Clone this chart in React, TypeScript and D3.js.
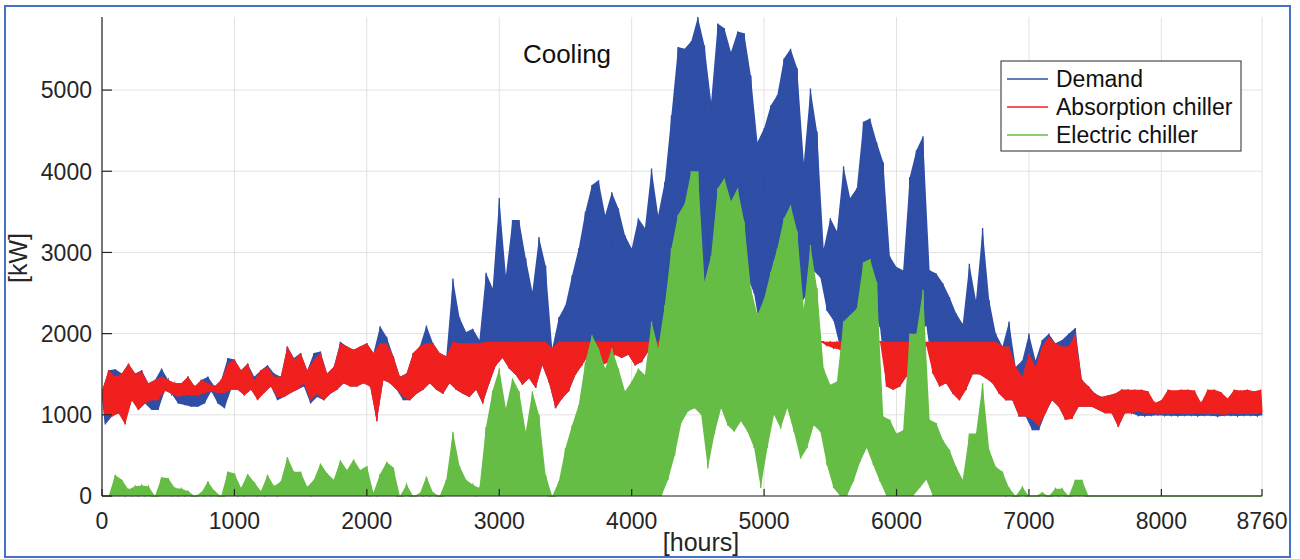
import React from "react";
import * as d3 from "d3";

// Hourly cooling profile, read from the picture as the upper / lower envelope of
// each successive 50-hour block (176 blocks cover hours 0 … 8760).
const blockHours = 50;

const demandMax = [
  1300, 1550, 1560, 1510, 1630, 1510, 1550, 1390, 1430, 1570,
  1430, 1390, 1390, 1470, 1350, 1430, 1470, 1350, 1430, 1700,
  1680, 1550, 1630, 1470, 1550, 1610, 1510, 1470, 1840, 1700,
  1760, 1550, 1760, 1780, 1510, 1590, 1900, 1840, 1800, 1840,
  1880, 1760, 2090, 1960, 1720, 1470, 1510, 1760, 1840, 2100,
  1880, 1760, 1720, 2680, 2200, 2020, 2060, 1920, 2750,
  2560, 3670, 2720, 3400, 3400, 2930, 2520, 3190, 2840, 1820,
  2200, 2350, 2720, 3050, 3500, 3830, 3890, 3460, 3740, 3540,
  3210, 3050, 3420, 3300, 4035, 3460, 3870, 4690, 5530,
  5510, 5600, 5900, 5550, 4860, 5820, 5760, 5470, 5720, 5700,
  5180, 4360, 4530, 4810, 4940, 5390, 5510, 5270, 4110, 5020,
  4490, 3050, 3420, 3260, 4060, 3670, 3790, 4610, 4650, 4360,
  4110, 2950, 2820, 2780, 3930, 4260, 4430, 2780, 2740, 2620,
  2450, 2250, 2120, 2860, 2410, 3300, 2410, 2000,
  1840, 2150, 1590, 1670, 2000, 1670, 1920, 2000, 1880, 1920, 2000, 2070,
  1430, 1350, 1260, 1220, 1240, 1260, 1310, 1310,
  1070, 1060, 1060, 1050, 1060, 1060, 1070, 1060, 1050, 1060,
  1060, 1050, 1060, 1060, 1050, 1060, 1060, 1050, 1060, 1060,
];

const demandMin = [
  880, 980, 1020, 920, 1180, 1060, 1140, 1060, 1060, 1300,
  1260, 1140, 1120, 1100, 1100, 1140, 1290, 1140, 1080, 1310,
  1310, 1240, 1310, 1200, 1270, 1350, 1180, 1220, 1270, 1310,
  1350, 1140, 1220, 1180, 1260, 1310, 1390, 1350, 1350, 1390,
  1350, 920, 1430, 1390, 1310, 1180, 1180, 1260, 1310, 1390,
  1310, 1260, 1390, 1310, 1260, 1220, 1310, 1140, 1390,
  1610, 1700, 1570, 1490, 1370, 1450, 1330, 1610, 1400, 1080,
  1200, 1290, 1490, 1610, 1740, 1820, 1610, 1650, 1740, 1700,
  1740, 1610, 1650, 1780, 1570, 1820, 1860, 2100, 2400,
  2940, 2980, 2900, 2240, 2660, 2980, 2770, 2690, 2820, 2690,
  2490, 2000, 2490, 2900, 2730, 2980, 2690, 2360, 2490, 2770,
  2690, 2280, 2160, 1820, 1820, 2080, 2320, 2490, 2280, 2080,
  1350, 1310, 1350, 1470, 1590, 2000, 2100, 1510, 1350, 1390,
  1260, 1180, 1310, 1500, 1500, 1450, 1390, 1260,
  1180, 1180, 980, 980, 810, 810, 1020, 1180, 1100, 940, 950, 1100,
  1100, 1100, 1060, 1020, 1020, 850, 1020, 1020,
  990, 985, 990, 995, 990, 990, 985, 990, 990, 985,
  990, 990, 980, 990, 990, 985, 990, 990, 985, 995,
];

const absorptionMax = [
  1300, 1550, 1470, 1510, 1630, 1510, 1530, 1390, 1430, 1470,
  1430, 1390, 1390, 1470, 1350, 1430, 1390, 1350, 1430, 1630,
  1680, 1550, 1630, 1430, 1550, 1590, 1470, 1470, 1840, 1680,
  1760, 1550, 1680, 1760, 1510, 1590, 1880, 1840, 1800, 1840,
  1880, 1760, 1880, 1880, 1720, 1470, 1510, 1760, 1840, 1880,
  1880, 1760, 1720, 1900, 1880, 1880, 1880, 1880, 1900,
  1900, 1900, 1900, 1900, 1900, 1900, 1900, 1900, 1900, 1820,
  1900, 1900, 1900, 1900, 1900, 1900, 1900, 1900, 1900, 1900,
  1900, 1900, 1900, 1900, 1900, 1900, 1900, 1900, 1900,
  1900, 1900, 1900, 1900, 1900, 1900, 1900, 1900, 1900, 1900,
  1900, 1900, 1900, 1900, 1900, 1900, 1900, 1900, 1900, 1900,
  1900, 1900, 1900, 1900, 1900, 1900, 1900, 1900, 1900, 1900,
  1900, 1900, 1900, 1900, 1900, 1900, 1900, 1900, 1900, 1900,
  1900, 1900, 1900, 1900, 1900, 1900, 1900, 1900,
  1840, 1840, 1590, 1470, 1760, 1590, 1840, 1960, 1880, 1840, 1840, 2000,
  1430, 1350, 1260, 1220, 1240, 1260, 1310, 1310,
  1310, 1310, 1290, 1150, 1180, 1310, 1300, 1310, 1310, 1300,
  1150, 1310, 1310, 1280, 1200, 1310, 1300, 1310, 1290, 1310,
];

const absorptionMin = [
  990, 980, 1020, 880, 1180, 1060, 1140, 1180, 1180, 1300,
  1260, 1220, 1240, 1240, 1240, 1270, 1290, 1270, 1270, 1310,
  1310, 1240, 1310, 1180, 1270, 1350, 1220, 1220, 1270, 1310,
  1390, 1180, 1260, 1180, 1260, 1310, 1390, 1350, 1350, 1390,
  1350, 920, 1430, 1390, 1310, 1220, 1180, 1260, 1310, 1390,
  1310, 1260, 1390, 1310, 1260, 1220, 1310, 1140, 1390,
  1610, 1700, 1570, 1490, 1370, 1450, 1330, 1610, 1400, 1080,
  1200, 1290, 1490, 1610, 1740, 1820, 1610, 1650, 1740, 1700,
  1740, 1610, 1650, 1780, 1570, 1820, 1860, 1900, 1900,
  1900, 1900, 1900, 1900, 1900, 1900, 1900, 1900, 1900, 1900,
  1900, 1900, 1900, 1900, 1900, 1900, 1900, 1900, 1900, 1900,
  1900, 1850, 1820, 1800, 1820, 1840, 1900, 1900, 1900, 1900,
  1350, 1310, 1350, 1470, 1590, 1800, 1850, 1510, 1350, 1390,
  1260, 1180, 1310, 1500, 1500, 1450, 1390, 1260,
  1180, 1180, 980, 980, 940, 860, 1020, 1180, 1100, 940, 950, 1100,
  1100, 1100, 1060, 1020, 1020, 850, 1020, 1020,
  1040, 1020, 1020, 1010, 1010, 1010, 1020, 1010, 1010, 1020,
  1010, 1010, 1010, 1000, 1020, 1010, 1010, 1010, 1010, 1030,
];

const electricMax = [
  0, 0, 260, 200, 80, 120, 130, 120, 0, 230,
  220, 100, 90, 60, 0, 40, 180, 60, 0, 300,
  280, 100, 270, 170, 60, 260, 120, 180, 480, 300,
  300, 110, 200, 400, 280, 200, 440, 320, 450, 320,
  370, 40, 270, 420, 350, 0, 140, 0, 30, 240,
  40, 0, 200, 790, 370, 200, 140, 100, 850,
  1300, 1570, 1080, 1450, 1290, 790, 1290, 1000, 260, 0,
  180, 590, 870, 1120, 1650, 1980, 1820, 1570, 1820, 1570,
  1290, 1410, 1570, 1490, 2150, 1820, 2350, 3050, 3460,
  3600, 4000, 4000, 2640, 2960, 3790, 3910, 3630, 3790, 3380,
  2560, 2230, 2430, 2760, 3050, 3420, 3580, 3260, 2310, 3090,
  2560, 1570, 1370, 1410, 2150, 2230, 2310, 2880, 2920, 2640,
  980, 940, 770, 810, 2000, 2000, 2540, 940, 900, 690,
  570, 360, 200, 770, 770, 1390, 570, 360,
  300, 100, 0, 110, 0, 0, 40, 0, 90, 90, 0, 200,
  200, 0, 0, 0, 0, 0, 0, 0,
  0, 0, 0, 0, 0, 0, 0, 0, 0, 0,
  0, 0, 0, 0, 0, 0, 0, 0, 0, 0,
];

const electricMin = [
  0, 0, 0, 0, 0, 0, 0, 0, 0, 0,
  0, 0, 0, 0, 0, 0, 0, 0, 0, 0,
  0, 0, 0, 0, 0, 0, 0, 0, 0, 0,
  0, 0, 0, 0, 0, 0, 0, 0, 0, 0,
  0, 0, 0, 0, 0, 0, 0, 0, 0, 0,
  0, 0, 0, 0, 0, 0, 0, 0, 0,
  0, 0, 0, 0, 0, 0, 0, 0, 0, 0,
  0, 0, 0, 0, 0, 0, 0, 0, 0, 0,
  0, 0, 0, 0, 0, 0, 200, 500, 900,
  1040, 1080, 1000, 340, 760, 1080, 870, 790, 920, 790,
  590, 100, 590, 1000, 830, 1080, 790, 460, 590, 870,
  790, 380, 100, 0, 0, 180, 420, 590, 380, 180,
  0, 0, 0, 0, 0, 100, 200, 0, 0, 0,
  0, 0, 0, 0, 0, 0, 0, 0,
  0, 0, 0, 0, 0, 0, 0, 0, 0, 0, 0, 0,
  0, 0, 0, 0, 0, 0, 0, 0,
  0, 0, 0, 0, 0, 0, 0, 0, 0, 0,
  0, 0, 0, 0, 0, 0, 0, 0, 0, 0,
];

const xTicks = [0, 1000, 2000, 3000, 4000, 5000, 6000, 7000, 8000, 8760];
const yTicks = [0, 1000, 2000, 3000, 4000, 5000];
const seriesNames = ["Demand", "Absorption chiller", "Electric chiller"];
const titleText = "Cooling";
const xLabel = "[hours]";
const yLabel = "[kW]";

const COLORS = ["#2f4ea6", "#f0201e", "#66bd45"];
const FONT = "'Liberation Sans', Arial, Helvetica, sans-serif";

type Pt = [number, number];
type Block = { hMax: number; hMin: number; max: number; min: number };

function blocks(maxs: number[], mins: number[]): Block[] {
  return maxs.map((v, i) => ({
    hMax: Math.min(i * blockHours, 8760),
    hMin: Math.min(i * blockHours + blockHours / 2, 8760),
    max: v,
    min: mins[i],
  }));
}

function envelopeTrace(b: Block[]): Pt[] {
  const pts: Pt[] = [];
  b.forEach((d) => {
    pts.push([d.hMax, d.max]);
    pts.push([d.hMin, d.min]);
  });
  return pts;
}

export default function App() {
  const W = 1300;
  const H = 559;
  const left = 102;
  const right = 1262;
  const top = 17;
  const bottom = 496;

  const x = d3.scaleLinear().domain([0, 8760]).range([left, right]);
  const y = d3.scaleLinear().domain([0, 5900]).range([bottom, top]);

  const line = d3
    .line<Pt>()
    .x((d) => x(d[0]))
    .y((d) => y(d[1]));

  const area = d3
    .area<Block>()
    .x1((d) => x(d.hMax))
    .y1((d) => y(d.max))
    .x0((d) => x(d.hMin))
    .y0((d) => y(d.min));

  const series = [
    blocks(demandMax, demandMin),
    blocks(absorptionMax, absorptionMin),
    blocks(electricMax, electricMin),
  ];

  const axisColor = "#262626";
  const gridColor = "#e2e2e2";

  const legendX = 1001;
  const legendY = 61;
  const legendW = 240;
  const legendH = 90;
  const rowY = [79, 107, 135];

  return (
    <svg
      width={W}
      height={H}
      viewBox={`0 0 ${W} ${H}`}
      style={{ position: "absolute", left: 0, top: 0, background: "#ffffff" }}
      fontFamily={FONT}
    >
      <rect x={0} y={0} width={W} height={H} fill="#ffffff" />
      <defs>
        <clipPath id="plotClip">
          <rect x={left} y={top - 2} width={right - left + 1} height={bottom - top + 3} />
        </clipPath>
      </defs>

      {/* grid */}
      {xTicks.map((t) => (
        <line key={"gx" + t} x1={x(t)} x2={x(t)} y1={top} y2={bottom} stroke={gridColor} strokeWidth={1} />
      ))}
      {yTicks.map((t) => (
        <line key={"gy" + t} x1={left} x2={right} y1={y(t)} y2={y(t)} stroke={gridColor} strokeWidth={1} />
      ))}

      {/* series: dense hourly trace drawn as its block envelope plus the zig-zag */}
      <g clipPath="url(#plotClip)">
        {series.map((b, i) => (
          <g key={seriesNames[i]}>
            <path d={area(b) || ""} fill={COLORS[i]} stroke="none" />
            <path
              d={line(envelopeTrace(b)) || ""}
              fill="none"
              stroke={COLORS[i]}
              strokeWidth={1.3}
              strokeLinejoin="miter"
            />
          </g>
        ))}
      </g>

      {/* axes */}
      <line x1={left} x2={left} y1={top} y2={bottom} stroke={axisColor} strokeWidth={1.2} />
      <line x1={left} x2={right} y1={bottom} y2={bottom} stroke={axisColor} strokeWidth={1.2} />
      {yTicks.map((t) => (
        <g key={"ty" + t}>
          <line x1={left} x2={left + 10} y1={y(t)} y2={y(t)} stroke={axisColor} strokeWidth={1.2} />
          <text x={left - 10} y={y(t)} dy="0.36em" textAnchor="end" fontSize={23} fill={axisColor}>
            {t}
          </text>
        </g>
      ))}
      {xTicks.map((t) => (
        <g key={"tx" + t}>
          <line x1={x(t)} x2={x(t)} y1={bottom} y2={bottom - 7} stroke={axisColor} strokeWidth={1.2} />
          <text x={x(t)} y={529} textAnchor="middle" fontSize={23} fill={axisColor}>
            {t}
          </text>
        </g>
      ))}

      {/* labels */}
      <text x={567} y={63} textAnchor="middle" fontSize={26} fill="#111">
        {titleText}
      </text>
      <text x={701} y={551} textAnchor="middle" fontSize={25} fill={axisColor}>
        {xLabel}
      </text>
      <text
        transform={`translate(27, 258) rotate(-90)`}
        textAnchor="middle"
        fontSize={25}
        fill={axisColor}
      >
        {yLabel}
      </text>

      {/* legend */}
      <rect x={legendX} y={legendY} width={legendW} height={legendH} fill="#ffffff" stroke="#262626" strokeWidth={1} />
      {seriesNames.map((n, i) => (
        <g key={"lg" + n}>
          <line x1={1007} x2={1048} y1={rowY[i]} y2={rowY[i]} stroke={COLORS[i]} strokeWidth={1.3} />
          <text x={1056} y={rowY[i] + 8} fontSize={23} fill="#111">
            {n}
          </text>
        </g>
      ))}

      {/* outer frame */}
      <rect x={5} y={6} width={1285} height={551} fill="none" stroke="#4472c4" strokeWidth={2} />
    </svg>
  );
}
